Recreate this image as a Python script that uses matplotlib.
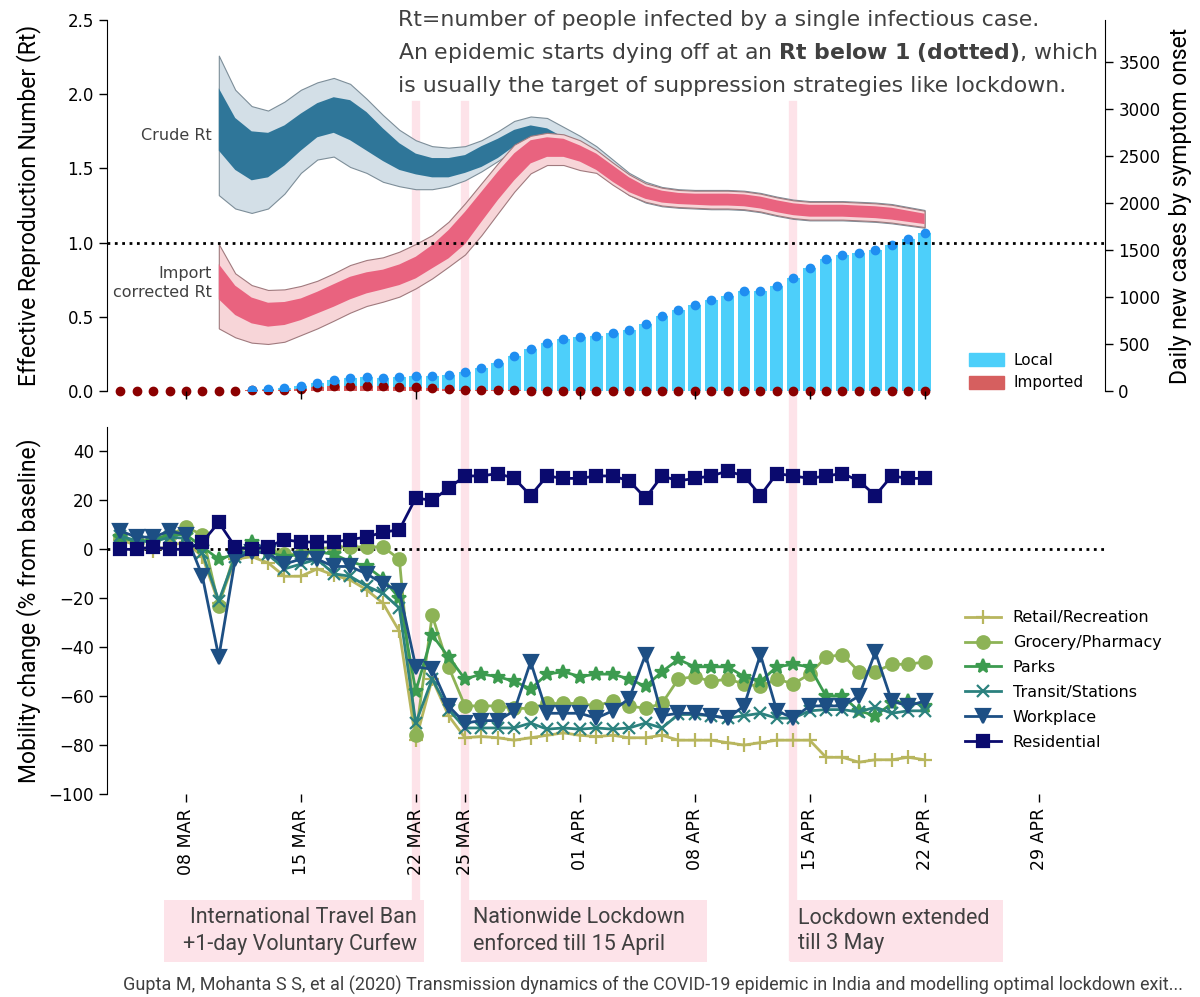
import numpy as np
import pandas as pd
import matplotlib
matplotlib.use('Agg')
import matplotlib.pyplot as plt
import matplotlib.dates as mdates
from matplotlib.patches import Patch, Rectangle
from matplotlib.lines import Line2D
from matplotlib.transforms import blended_transform_factory

NARROW = ['Roboto', 'DejaVu Sans']
TXT = '#404040'

# ========== daily cases by symptom onset (04 Mar - 22 Apr) ==========
case_dates = pd.date_range('2020-03-04', '2020-04-22', freq='D')
local_cases = [0, 0, 0, 0, 0, 0, 0, 0, 2, 5,
               12, 28, 46, 64, 82, 89, 90, 104, 115, 133,
               152, 188, 231, 292, 370, 443, 507, 550, 575, 588,
               614, 642, 713, 791, 862, 915, 961, 1014, 1057, 1064,
               1110, 1199, 1305, 1404, 1440, 1465, 1500, 1553, 1614, 1678]
local_err = [0, 0, 0, 0, 0, 0, 0, 0, 0, 0,
             0, 0, 0, 0, 0, 0, 0, 0, 5, 8,
             10, 12, 15, 18, 20, 15, 10, 10, 10, 10,
             12, 15, 18, 22, 15, 12, 10, 10, 10, 10,
             18, 30, 40, 30, 20, 15, 15, 20, 22, 25]
imported_cases = [2, 2, 2, 2, 3, 3, 4, 5, 8, 12,
                  15, 25, 40, 50, 55, 55, 50, 45, 40, 30,
                  22, 15, 10, 8, 6, 5, 4, 3, 3, 3,
                  3, 3, 3, 3, 3, 3, 3, 3, 3, 3,
                  3, 3, 3, 3, 3, 3, 3, 3, 3, 3]

# ========== Rt estimates (10 Mar - 22 Apr) ==========
rt_dates = pd.date_range('2020-03-10', '2020-04-22', freq='D')
crude_hi95 = [2.26, 2.03, 1.92, 1.89, 1.95, 2.03, 2.08, 2.11, 2.07, 1.97, 1.86, 1.76,
              1.69, 1.65, 1.64, 1.65, 1.69, 1.75, 1.82, 1.85, 1.84, 1.78, 1.72,
              1.65, 1.56, 1.47, 1.41, 1.375, 1.36, 1.355, 1.355, 1.355, 1.35, 1.335,
              1.31, 1.29, 1.28, 1.28, 1.28, 1.275, 1.27, 1.26, 1.24, 1.22]
crude_hi50 = [2.04, 1.84, 1.75, 1.74, 1.79, 1.87, 1.94, 1.98, 1.96, 1.88, 1.77, 1.67,
              1.60, 1.57, 1.57, 1.59, 1.65, 1.70, 1.76, 1.79, 1.77, 1.71, 1.67,
              1.61, 1.53, 1.45, 1.39, 1.355, 1.34, 1.335, 1.335, 1.335, 1.33, 1.315,
              1.29, 1.27, 1.26, 1.26, 1.26, 1.255, 1.25, 1.24, 1.22, 1.20]
crude_lo50 = [1.62, 1.49, 1.42, 1.44, 1.52, 1.62, 1.71, 1.74, 1.69, 1.62, 1.55, 1.49,
              1.46, 1.44, 1.44, 1.47, 1.51, 1.57, 1.65, 1.69, 1.69, 1.66, 1.60,
              1.53, 1.45, 1.36, 1.30, 1.275, 1.265, 1.26, 1.255, 1.255, 1.25, 1.235,
              1.21, 1.19, 1.18, 1.18, 1.18, 1.175, 1.17, 1.16, 1.145, 1.13]
crude_lo95 = [1.32, 1.23, 1.20, 1.23, 1.33, 1.47, 1.56, 1.58, 1.51, 1.47, 1.41, 1.38,
              1.36, 1.36, 1.38, 1.42, 1.48, 1.55, 1.62, 1.66, 1.67, 1.64, 1.57,
              1.49, 1.40, 1.32, 1.27, 1.245, 1.235, 1.23, 1.225, 1.225, 1.22, 1.205,
              1.18, 1.16, 1.15, 1.15, 1.15, 1.145, 1.14, 1.13, 1.115, 1.10]
imp_hi95 = [0.99, 0.793, 0.714, 0.681, 0.685, 0.708, 0.743, 0.793, 0.849, 0.883, 0.901, 0.939,
            0.991, 1.051, 1.141, 1.265, 1.40, 1.534, 1.66, 1.72, 1.74, 1.73, 1.69,
            1.625, 1.54, 1.46, 1.40, 1.37, 1.355, 1.35, 1.35, 1.35, 1.345, 1.33,
            1.305, 1.285, 1.275, 1.275, 1.275, 1.27, 1.265, 1.255, 1.235, 1.215]
imp_hi50 = [0.855, 0.71, 0.63, 0.595, 0.60, 0.624, 0.669, 0.72, 0.77, 0.80, 0.818, 0.853,
            0.905, 0.984, 1.085, 1.208, 1.343, 1.478, 1.602, 1.69, 1.71, 1.70, 1.655,
            1.60, 1.52, 1.44, 1.38, 1.35, 1.335, 1.33, 1.33, 1.33, 1.325, 1.31,
            1.285, 1.265, 1.255, 1.255, 1.255, 1.25, 1.245, 1.235, 1.215, 1.195]
imp_lo50 = [0.618, 0.512, 0.456, 0.434, 0.445, 0.478, 0.523, 0.568, 0.618, 0.658, 0.685, 0.714,
            0.759, 0.827, 0.894, 0.99, 1.14, 1.287, 1.42, 1.534, 1.578, 1.578, 1.546,
            1.49, 1.41, 1.34, 1.295, 1.27, 1.26, 1.255, 1.25, 1.25, 1.245, 1.23,
            1.205, 1.185, 1.175, 1.175, 1.175, 1.17, 1.165, 1.155, 1.14, 1.125]
imp_lo95 = [0.422, 0.362, 0.326, 0.317, 0.332, 0.377, 0.422, 0.474, 0.528, 0.573, 0.602, 0.636,
            0.692, 0.759, 0.838, 0.92, 1.05, 1.197, 1.343, 1.467, 1.523, 1.523, 1.489,
            1.47, 1.39, 1.32, 1.275, 1.25, 1.24, 1.235, 1.23, 1.23, 1.225, 1.21,
            1.185, 1.165, 1.155, 1.155, 1.155, 1.15, 1.145, 1.135, 1.12, 1.105]

# ========== google mobility (04 Mar - 22 Apr) ==========
mob_dates = pd.date_range('2020-03-04', '2020-04-22', freq='D')
retail = [4, 1.5, -0.5, 1.5, 3, -3, -22, -4, -3, -5.5, -11, -11, -8, -10.5, -12.5, -16.5, -22, -33.5,
          -78, -53, -68, -77, -76.5, -77, -78, -77, -76, -75, -76, -76.5, -76, -77, -77, -76,
          -78, -78, -78, -79, -80, -79, -78, -78, -78, -85, -85, -87, -86, -86, -85, -86]
grocery = [5, 3, 4, 6, 9, 6, -23, -1, 1, 0, -2, -2, 0, 1, 1, 1, 1, -4,
           -76, -27, -48, -64, -64, -64, -65, -65, -63, -63, -63, -64, -62, -64, -65, -63,
           -53, -52, -54, -53, -55, -56, -53, -55, -51, -44, -43, -50, -50, -47, -47, -46]
parks = [5, 3, 4, 6, 6, 1, -4, -2, 3, -1, -3, -2, -1, -2, -5, -7, -12, -20,
         -58, -35, -44, -53, -51, -52, -54, -57, -51, -50, -52, -51, -51, -53, -56, -50,
         -45, -48, -48, -48, -52, -54, -48, -47, -48, -60, -60, -66, -68, -63, -62, -64]
transit = [5.5, 3.5, 3, 5, 4.5, -1.5, -21, -3, 0, -2, -8, -6, -4, -10, -11, -15, -18, -24,
           -71, -53, -65.5, -73, -73, -73, -73, -71, -73.5, -73, -73.5, -73, -73.5, -73, -71, -73,
           -67.5, -67.5, -68, -69, -68, -67, -69, -69, -66, -65.5, -65.5, -66.5, -64.5, -67, -66, -66]
workplace = [7.5, 5, 5, 7.5, 6, -11, -44, -4, -1, -1.5, -6, -4, -4, -7, -7, -10, -14, -17,
             -48, -49, -64, -71, -70, -70, -66, -46, -67, -67, -67, -69, -66, -61, -43, -68,
             -67, -67, -68, -69, -64, -43, -66, -69, -64, -64, -64, -60, -42, -62, -64, -62]
residential = [0, 0, 1, 0, 0, 3, 11, 1, 0, 1, 4, 3, 3, 3, 4, 5, 7, 8,
               21, 20, 25, 30, 30, 31, 29, 22, 30, 29, 29, 30, 30, 28, 21, 30,
               28, 29, 30, 32, 30, 22, 31, 30, 29, 30, 31, 28, 22, 30, 29, 29]

# ========== events & ticks ==========
event_dates = ['2020-03-22', '2020-03-25', '2020-04-14']
event_texts = ['International Travel Ban\n+1-day Voluntary Curfew',
               'Nationwide Lockdown\nenforced till 15 April',
               'Lockdown extended\ntill 3 May']
tick_dates = ['2020-03-08', '2020-03-15', '2020-03-22', '2020-03-25', '2020-04-01',
              '2020-04-08', '2020-04-15', '2020-04-22', '2020-04-29']
tick_labels = ['08 MAR', '15 MAR', '22 MAR', '25 MAR', '01 APR',
               '08 APR', '15 APR', '22 APR', '29 APR']
top_tick_dates = ['2020-03-08', '2020-03-15', '2020-03-22', '2020-04-01',
                  '2020-04-08', '2020-04-15', '2020-04-22']

d2n = lambda d: mdates.date2num(pd.Timestamp(d))
xlim = (d2n('2020-03-03') + 0.19, d2n('2020-05-03'))

# ========== figure ==========
fig = plt.figure(figsize=(12, 9.97), dpi=100)
ax_rt = fig.add_axes([0.0892, 0.6078, 0.8317, 0.3721])
ax_cs = ax_rt.twinx()
ax_mob = fig.add_axes([0.0892, 0.2036, 0.8317, 0.3681])
for a in (ax_rt, ax_cs, ax_mob):
    a.patch.set_visible(False)
ax_rt.set_zorder(ax_cs.get_zorder() + 1)

# --- cases (right axis) ---
xc = mdates.date2num(case_dates)
loc = np.array(local_cases)
imp = np.array(imported_cases)
ax_cs.bar(xc, imp, width=0.78, color='#d65f5f', lw=0)
ax_cs.bar(xc, loc, width=0.78, bottom=imp, color='#4dcffa', lw=0)
has = loc > 0
ax_cs.errorbar(xc[has], (loc + imp)[has], yerr=np.array(local_err)[has], fmt='o',
               color='#1f8ef1', ms=6, elinewidth=2, capsize=0)
ax_cs.plot(xc, imp, 'o', color='#8b0000', ms=6, clip_on=False)
ax_cs.set_ylim(0, 3950)
ax_cs.set_yticks(np.arange(0, 3501, 500))
ax_cs.tick_params(axis='y', labelsize=12, length=6, width=1)
ax_cs.set_ylabel('Daily new cases by symptom onset', fontsize=16.5, family=NARROW)
ax_cs.yaxis.set_label_coords(1.064, 0.5)
for s in ('top', 'bottom', 'left'):
    ax_cs.spines[s].set_visible(False)
ax_cs.legend(handles=[Patch(color='#4dcffa', label='Local'),
                      Patch(color='#d65f5f', label='Imported')],
             loc='upper left', bbox_to_anchor=(0.85, 0.14), frameon=False,
             fontsize=11, handlelength=2.3, handleheight=0.9, labelspacing=0.5,
             handletextpad=0.6)

# --- Rt bands (left axis) ---
xr = mdates.date2num(rt_dates)
ax_rt.fill_between(xr, crude_lo95, crude_hi95, facecolor='#d3dfe7', edgecolor='#7d8e99', lw=0.8)
ax_rt.fill_between(xr, crude_lo50, crude_hi50, facecolor='#2f7699', lw=0)
ax_rt.fill_between(xr, imp_lo95, imp_hi95, facecolor='#f7d5d8', edgecolor='#a07a7e', lw=0.8)
ax_rt.fill_between(xr, imp_lo50, imp_hi50, facecolor='#e9637f', lw=0)
ax_rt.axhline(1, color='black', ls=':', lw=2)
ax_rt.text(xr[0] - 0.4, 1.725, 'Crude Rt', ha='right', va='center', fontsize=11.5, color=TXT)
ax_rt.text(xr[0] - 0.4, 0.728, 'Import\ncorrected Rt', ha='right', va='center',
           multialignment='right', fontsize=11.5, color=TXT, linespacing=1.35)
ax_rt.set_ylim(0, 2.5)
ax_rt.set_yticks(np.arange(0, 2.51, 0.5))
ax_rt.set_yticklabels([f'{v:.1f}' for v in np.arange(0, 2.51, 0.5)])
ax_rt.tick_params(axis='y', labelsize=12, length=6, width=1)
ax_rt.set_xlim(*xlim)
ax_rt.set_xticks([d2n(d) for d in top_tick_dates])
ax_rt.set_xticklabels([])
ax_rt.tick_params(axis='x', length=6, width=1)
for s in ('top', 'bottom', 'right'):
    ax_rt.spines[s].set_visible(False)
ax_rt.set_ylabel('Effective Reproduction Number (Rt)', fontsize=16.5, family=NARROW)
ax_rt.yaxis.set_label_coords(-0.066, 0.5)

# --- mobility ---
xm = mdates.date2num(mob_dates)
series = [
    (retail, 'Retail/Recreation', '#b8b65e', '+', 10),
    (grocery, 'Grocery/Pharmacy', '#8db356', 'o', 9),
    (parks, 'Parks', '#3c9b4f', '*', 10),
    (transit, 'Transit/Stations', '#2b817e', 'x', 9),
    (workplace, 'Workplace', '#1d4f84', 'v', 10),
    (residential, 'Residential', '#0a0a6e', 's', 9),
]
for vals, lab, col, mk, ms in series:
    ax_mob.plot(xm, vals, color=col, marker=mk, ms=ms, mew=1.6, lw=2, label=lab)
ax_mob.axhline(0, color='black', ls=':', lw=2, zorder=0.5)
ax_mob.set_xlim(*xlim)
ax_mob.set_ylim(-100, 50)
ax_mob.set_yticks(np.arange(-100, 41, 20))
ax_mob.set_yticklabels([f'{v:d}'.replace('-', '\u2212') for v in np.arange(-100, 41, 20)])
ax_mob.tick_params(axis='y', labelsize=12, length=6, width=1)
ax_mob.set_xticks([d2n(d) for d in tick_dates])
ax_mob.set_xticklabels(tick_labels, rotation=90, fontsize=12.5)
ax_mob.tick_params(axis='x', length=6, width=1, pad=4)
for s in ('top', 'bottom', 'right'):
    ax_mob.spines[s].set_visible(False)
ax_mob.set_ylabel('Mobility change (% from baseline)', fontsize=16.5, family=NARROW)
ax_mob.yaxis.set_label_coords(-0.066, 0.5)
ax_mob.legend(loc='upper left', bbox_to_anchor=(0.845, 0.54), frameon=False,
              fontsize=11.5, handlelength=2.3, labelspacing=0.62, handletextpad=0.7)

# --- event markers and boxes ---
trans = blended_transform_factory(ax_mob.transData, fig.transFigure)
box_span = [(-15.35, 0.5), (-0.25, 14.75), (-0.2, 12.8)]
text_dx = [0.05, 0.5, 0.3]
text_ha = ['right', 'left', 'left']
for ev, txt, (b0, b1), dx, ha in zip(event_dates, event_texts, box_span, text_dx, text_ha):
    xe = d2n(ev)
    fig.add_artist(Line2D([xe, xe], [0.04, 0.895], transform=trans,
                          color='#fde3e9', lw=6, zorder=-1))
    fig.add_artist(Rectangle((xe + b0, 0.0351), b1 - b0, 0.0622, transform=trans,
                             facecolor='#fde3e9', edgecolor='none', zorder=-1))
    fig.text(xe + dx, 0.0662, txt, transform=trans, ha=ha, va='center',
             multialignment=ha, fontsize=15.5, family=NARROW, color=TXT, linespacing=1.3)

# --- header text & source ---
fig.text(0.3317, 0.980, 'Rt=number of people infected by a single infectious case.',
         fontsize=15.8, color=TXT, va='center')
fig.text(0.3317, 0.9468,
         r'An epidemic starts dying off at an $\mathbf{Rt\ below\ 1\ (dotted)}$, which',
         fontsize=15.8, color=TXT, va='center')
fig.text(0.3317, 0.9137, 'is usually the target of suppression strategies like lockdown.',
         fontsize=15.8, color=TXT, va='center')
fig.text(0.544, 0.012,
         'Gupta M, Mohanta S S, et al (2020) Transmission dynamics of the COVID-19 epidemic '
         'in India and modelling optimal lockdown exit...',
         ha='center', va='center', fontsize=13, family=NARROW, color=TXT)

fig.savefig('out.png', dpi=100)
